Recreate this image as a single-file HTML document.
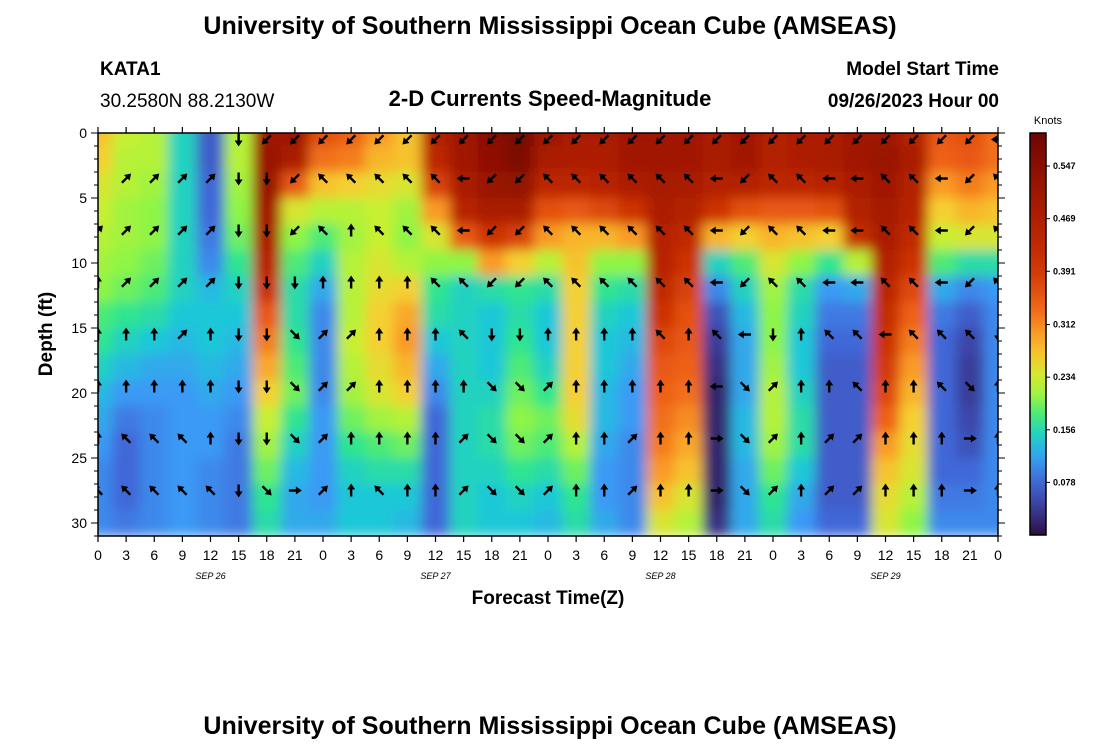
<!DOCTYPE html>
<html><head><meta charset="utf-8"><style>
body{margin:0;background:#fff;width:1100px;height:750px;overflow:hidden}
svg text{font-family:"Liberation Sans",sans-serif}
</style></head><body>
<svg id="chart" width="1100" height="750" xmlns="http://www.w3.org/2000/svg">
<defs>
<clipPath id="pc"><rect x="98" y="133" width="900" height="403"/></clipPath>
<filter id="bl" filterUnits="userSpaceOnUse" x="60" y="100" width="980" height="470"><feGaussianBlur stdDeviation="6"/></filter>
<linearGradient id="cbg" x1="0" y1="1" x2="0" y2="0"></linearGradient>
</defs>
<text x="550" y="34" font-size="25" font-weight="bold" text-anchor="middle">University of Southern Mississippi Ocean Cube (AMSEAS)</text>
<text x="100" y="75" font-size="19" font-weight="bold">KATA1</text>
<text x="100" y="107" font-size="19">30.2580N  88.2130W</text>
<text x="550" y="106" font-size="22" font-weight="bold" text-anchor="middle">2-D Currents Speed-Magnitude</text>
<text x="999" y="75" font-size="19" font-weight="bold" text-anchor="end">Model Start Time</text>
<text x="999" y="107" font-size="19" font-weight="bold" text-anchor="end">09/26/2023 Hour 00</text>
<g id="heat" clip-path="url(#pc)"><g id="cells" filter="url(#bl)"></g></g>
<g id="arrows" clip-path="url(#pc)"></g>
<rect x="98" y="133" width="900" height="403" fill="none" stroke="#000" stroke-width="1.5"/>
<g id="axes"></g>
<text transform="translate(52,334) rotate(-90)" font-size="19" font-weight="bold" text-anchor="middle">Depth (ft)</text>
<text x="548" y="604" font-size="19" font-weight="bold" text-anchor="middle">Forecast Time(Z)</text>
<text x="1048" y="124" font-size="11" text-anchor="middle">Knots</text>
<g id="cbar"></g>
<text x="550" y="734" font-size="25" font-weight="bold" text-anchor="middle">University of Southern Mississippi Ocean Cube (AMSEAS)</text>
</svg>
<script>
const hours=[0,3,6,9,12,15,18,21,24,27,30,33,36,39,42,45,48,51,54,57,60,63,66,69,72,75,78,81,84,87,90,93,96];
const depths=[0,2,4,6,8,10,12,14,16,18,20,22,24,26,28,30];
const speed=[
[.27,.26,.24,.23,.22,.21,.2,.18,.17,.15,.13,.12,.11,.1,.1,.1],
[.23,.22,.22,.21,.21,.2,.19,.17,.15,.13,.11,.09,.08,.08,.08,.09],
[.22,.22,.21,.2,.2,.19,.18,.16,.14,.12,.11,.1,.1,.1,.1,.1],
[.15,.15,.15,.15,.15,.15,.15,.14,.13,.12,.11,.11,.11,.11,.11,.11],
[.07,.07,.08,.08,.09,.1,.13,.14,.14,.13,.12,.11,.11,.1,.1,.1],
[.22,.22,.21,.2,.19,.17,.15,.14,.13,.12,.11,.1,.09,.09,.09,.09],
[.5,.52,.52,.5,.48,.45,.4,.35,.32,.29,.26,.23,.21,.19,.17,.16],
[.5,.48,.35,.24,.2,.18,.16,.16,.17,.18,.19,.17,.15,.13,.12,.12],
[.36,.33,.27,.22,.18,.15,.12,.1,.1,.1,.1,.11,.11,.11,.11,.12],
[.34,.32,.26,.22,.21,.22,.22,.22,.23,.22,.21,.19,.17,.15,.14,.14],
[.3,.28,.25,.23,.23,.24,.25,.26,.26,.25,.24,.21,.18,.16,.14,.14],
[.27,.27,.24,.21,.2,.22,.26,.29,.3,.28,.26,.22,.19,.16,.14,.13],
[.46,.44,.38,.3,.24,.2,.17,.16,.14,.12,.1,.08,.08,.08,.08,.08],
[.5,.5,.48,.45,.35,.2,.15,.15,.15,.15,.15,.15,.15,.15,.15,.15],
[.55,.54,.52,.48,.4,.3,.16,.14,.14,.14,.15,.16,.16,.15,.14,.14],
[.58,.57,.53,.48,.38,.26,.17,.16,.17,.18,.19,.2,.19,.17,.15,.14],
[.5,.48,.44,.36,.3,.22,.16,.14,.14,.15,.17,.19,.18,.16,.14,.13],
[.48,.47,.44,.35,.28,.27,.26,.26,.26,.26,.26,.25,.22,.19,.17,.16],
[.48,.47,.45,.37,.28,.2,.17,.15,.14,.14,.13,.13,.12,.11,.11,.12],
[.5,.5,.47,.4,.3,.2,.16,.14,.13,.12,.11,.11,.1,.1,.1,.1],
[.5,.5,.49,.47,.46,.45,.43,.4,.37,.35,.34,.33,.32,.3,.27,.24],
[.5,.5,.48,.46,.43,.4,.38,.36,.35,.34,.33,.31,.29,.27,.24,.22],
[.48,.48,.46,.4,.28,.15,.1,.06,.04,.03,.02,.02,.02,.02,.02,.03],
[.5,.5,.46,.36,.26,.18,.15,.13,.12,.12,.12,.13,.13,.12,.12,.12],
[.46,.46,.44,.35,.28,.24,.21,.2,.2,.21,.22,.22,.21,.19,.17,.16],
[.47,.47,.44,.35,.27,.2,.16,.15,.14,.14,.15,.16,.16,.14,.12,.11],
[.48,.48,.45,.36,.26,.17,.11,.09,.08,.07,.07,.07,.07,.07,.07,.08],
[.5,.5,.48,.46,.42,.22,.12,.09,.08,.07,.07,.07,.07,.07,.07,.08],
[.5,.52,.5,.49,.48,.46,.44,.42,.4,.39,.37,.34,.3,.27,.25,.24],
[.46,.48,.46,.45,.43,.4,.37,.34,.32,.3,.28,.26,.25,.24,.22,.2],
[.35,.34,.3,.26,.23,.18,.12,.09,.08,.08,.08,.08,.08,.08,.09,.1],
[.36,.35,.32,.28,.24,.16,.1,.07,.05,.04,.04,.05,.06,.08,.09,.1],
[.33,.33,.3,.27,.24,.16,.11,.1,.1,.1,.1,.1,.1,.1,.1,.1]];
const arrowDepths=[0.5,3.5,7.5,11.5,15.5,19.5,23.5,27.5];
// N,S,E,W, a=NE b=NW c=SE d=SW, .=none
const arrowDirs=[
".....SddddddddddddddddddddddddddW",
".aaaaSSdbbbbbWddbbbbbbWdbbWWbbWdb",
"aaaaaSSdbNbbbWddbbbbbbWdbbWWbbWdb",
"NaaaaSSSNNNNbbddbbbbbbWdbbWWbbWdb",
"NNNaNSScaaNNNbSSNNNNbNbWSNbbWbbbSN",
"NNNNNSScaaNNNNccaNNNNNWcaNNbNNbcN",
"NbbbNSScaNNNNaccaNNaNNEcaNaaNNNEN",
"bbbbbScEaNbNNaccaNNaNNEcaNaaNNNEN"];
const cbTicks=[0.078,0.156,0.234,0.312,0.391,0.469,0.547];
const yTicks=[0,5,10,15,20,25,30];
const dayLabels=["SEP 26","SEP 27","SEP 28","SEP 29"];
const dayLabelHours=[12,36,60,84];

const X=h=>98+h*900/96, Y=d=>133+d*13, VMAX=0.596;
const stops=[[0,"#2a1040"],[.04,"#3b3c9a"],[.08,"#4168d8"],[.11,"#3a9af5"],[.14,"#1ec8d8"],[.17,"#2ee58f"],[.2,"#8ef545"],[.23,"#c8f032"],[.26,"#f5d030"],[.3,"#fa9a28"],[.34,"#ee6015"],[.4,"#cc3305"],[.47,"#ae1e02"],[.55,"#8a0e02"],[.6,"#6a0505"]];
function hx(c){return [1,3,5].map(i=>parseInt(c.substr(i,2),16));}
function col(v){for(let i=1;i<stops.length;i++){if(v<=stops[i][0]){const[a,ca]=stops[i-1],[b,cb]=stops[i];const t=(v-a)/(b-a);const A=hx(ca),B=hx(cb);return `rgb(${A.map((x,k)=>Math.round(x+(B[k]-x)*t)).join(",")})`;}}return stops[stops.length-1][1];}
const NS="http://www.w3.org/2000/svg";
function mk(t,a,p){const e=document.createElementNS(NS,t);for(const k in a)e.setAttribute(k,a[k]);p.appendChild(e);return e;}
const cells=document.getElementById('cells');
hours.forEach((h,i)=>depths.forEach((d,j)=>{
 const x0=X(Math.max(-4,h-1.5)),x1=X(Math.min(100,h+1.5)),y0=Y(Math.max(-3,d-1)),y1=Y(Math.min(34,d+1));
 const r=mk('rect',{x:x0,y:y0,width:x1-x0+0.5,height:y1-y0+0.5,fill:col(speed[i][j])},cells);
 
 
}));
const ang={N:0,E:90,S:180,W:270,a:45,b:315,c:135,d:225};
const ar=document.getElementById('arrows');
arrowDirs.forEach((row,r)=>hours.forEach((h,i)=>{
 const c=row[i];if(!c||c==='.')return;
 const p=mk('path',{d:"M-1.2,6 L1.2,6 L1.2,-1 L4,-1 L0,-7 L-4,-1 L-1.2,-1 Z",fill:"#000",transform:`translate(${X(h)},${Y(arrowDepths[r])}) rotate(${ang[c]})`},ar);
 
 
}));
const ax=document.getElementById('axes');
for(let h=0;h<=96;h+=3){
 mk('line',{x1:X(h),x2:X(h),y1:536,y2:542,stroke:"#000","stroke-width":1.2},ax);
 mk('line',{x1:X(h),x2:X(h),y1:133,y2:127,stroke:"#000","stroke-width":1.2},ax);
 const t=mk('text',{x:X(h),y:560,"font-size":14,"text-anchor":"middle"},ax);t.textContent=h%24;
 
 
}
for(let d=0;d<=31;d++){const L=d%5===0?7:4;
 mk('line',{x1:98,x2:98-L,y1:Y(d),y2:Y(d),stroke:"#000","stroke-width":1},ax);
 mk('line',{x1:998,x2:998+L,y1:Y(d),y2:Y(d),stroke:"#000","stroke-width":1},ax);}
yTicks.forEach(d=>{const t=mk('text',{x:87,y:Y(d)+5,"font-size":14,"text-anchor":"end"},ax);t.textContent=d;
 
 });
dayLabels.forEach((s,i)=>{const t=mk('text',{x:X(dayLabelHours[i]),y:579,"font-size":9,"font-style":"italic","text-anchor":"middle","font-family":"Liberation Mono, monospace"},ax);t.textContent=s;
 
 });
const cb=document.getElementById('cbar');
const g=document.getElementById('cbg');
for(let k=0;k<=20;k++){const v=VMAX*k/20;mk('stop',{offset:k/20,"stop-color":col(v)},g);}
const cr=mk('rect',{x:1030,y:133,width:16,height:402,fill:"url(#cbg)",stroke:"#000","stroke-width":1.5},cb);


cbTicks.forEach(v=>{const y=535-v/VMAX*402;
 mk('line',{x1:1046,x2:1050,y1:y,y2:y,stroke:"#000"},cb);
 const t=mk('text',{x:1053,y:y+3,"font-size":9,"font-weight":"bold"},cb);t.textContent=v.toFixed(3);
 
 });
</script>
</body></html>
